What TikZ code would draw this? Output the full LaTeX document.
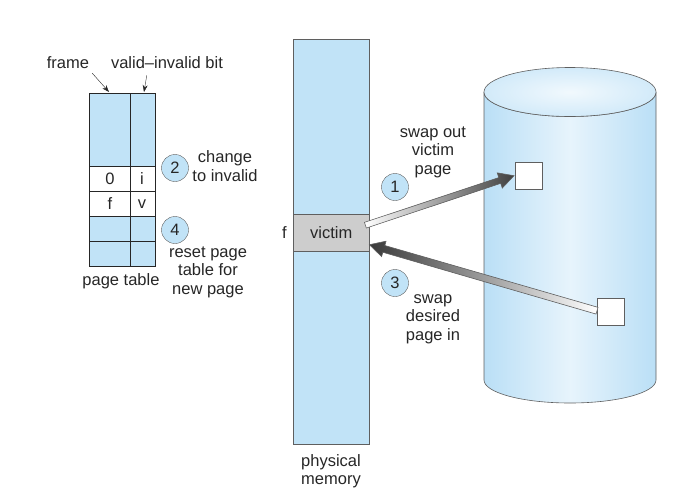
\documentclass[tikz,border=0pt]{standalone}
\usepackage{fontspec}
\setmainfont{Liberation Sans}
\usepackage{tikz}
\usetikzlibrary{arrows.meta, calc, positioning}
\definecolor{memblue}{RGB}{193,227,247}
\definecolor{diskblue}{RGB}{186,223,246}
\definecolor{victimgray}{RGB}{205,205,205}
\definecolor{edgegray}{RGB}{95,95,95}
\newcommand{\swaparrow}[5]{% tail, tip, half shaft, left colour, right colour
  \coordinate (hb) at ($(#2)!15pt!(#1)$);
  \shade[draw=edgegray, line width=0.6pt, left color=#4, right color=#5]
    ($(#1)!#3!90:(#2)$) -- ($(hb)!#3!90:(#2)$) -- ($(hb)!8pt!90:(#2)$) -- (#2)
    -- ($(hb)!8pt!-90:(#2)$) -- ($(hb)!#3!-90:(#2)$) -- ($(#1)!#3!-90:(#2)$) -- cycle;
}

\tikzset{
  lbl/.style={inner sep=0pt, align=center, text=black!85, font=\fontsize{16.5}{18.5}\selectfont},
  stepnum/.style={circle, draw=edgegray, fill=memblue, minimum size=27pt, inner sep=0pt, text=black!85, font=\fontsize{16.5}{18.5}\selectfont},
  blk/.style={draw=edgegray, fill=white, minimum size=27pt, inner sep=0pt},
}

\begin{document}
\begin{tikzpicture}[x=1pt, y=-1pt]
  \useasboundingbox (0,0) rectangle (687,498);
  % Page table
  \node[draw=black!85, fill=memblue, minimum width=66pt, minimum height=173pt, inner sep=0pt, anchor=north west] (ptab) at (89,93) {};
  \fill[white] (89,166) rectangle (155,216);
  \foreach \y in {166, 191, 216, 241}
    \draw[black!85] (89,\y) -- (155,\y);
  \draw[black!85] (130,93) -- (130,266);
  \draw[black!85] (ptab.north west) rectangle (ptab.south east);
  \node[lbl] (fzero) at (110,179) {0};
  \node[lbl] (bzero) at (142,179) {i};
  \node[lbl] (ff) at (110,204) {f};
  \node[lbl] (bf) at (142,204) {v};
  \node[lbl] (ptlbl) at (121,281) {page table};
  % Column labels
  \node[lbl] (frm) at (68,63) {frame};
  \node[lbl] (vib) at (167,63) {valid--invalid bit};
  \coordinate (framecol) at (109,92);
  \coordinate (bitcol) at (144,92);
  \draw[black!85, -{Stealth[length=7pt, width=5pt]}] ($(frm.south east)+(3,4)$) -- (framecol);
  \draw[black!85, -{Stealth[length=7pt, width=5pt]}] ($(vib.south west)!0.32!(vib.south east)+(0,6)$) -- (bitcol);
  % Steps 2 and 4
  \node[stepnum] (s2) at (175,168) {2};
  \node[lbl] (chg) at (225,166) {change\\to invalid};
  \node[stepnum] (s4) at (175,230) {4};
  \node[lbl] (rst) at (208,272) {reset page\\table for\\new page};
  % Physical memory
  \node[draw=edgegray, fill=memblue, minimum width=76pt, minimum height=405pt, inner sep=0pt, anchor=north west] (pmem) at (293,39) {};
  \node[draw=edgegray, fill=victimgray, minimum width=76pt, minimum height=37pt, inner sep=0pt, anchor=north west, text=black!85, font=\fontsize{16.5}{18.5}\selectfont] (victim) at (293,214) {victim};
  \node[lbl, left=6pt of victim] (fv) {f};
  \node[lbl] (pmlbl) at (331,471) {physical\\memory};
  % Backing store
  \shade[draw=edgegray, line width=0.6pt, left color=diskblue, right color=diskblue, middle color=diskblue!35]
    (484,92) -- (484,380) arc[start angle=180, end angle=0, x radius=86, y radius=23]
    -- (656,92) arc[start angle=0, end angle=180, x radius=86, y radius=24.5] -- cycle;
  \shade[draw=edgegray, line width=0.6pt, inner color=diskblue!20, outer color=diskblue!65]
    (570,92) ellipse[x radius=86, y radius=24.5];
  \node[blk, anchor=north west] (outpg) at (515,162) {};
  \node[blk, anchor=north west] (inpg) at (597,298) {};
  % Swap out and swap in
  \coordinate (outtail) at ($(victim.east)+(-4,-7.5)$);
  \coordinate (outtip) at ($(outpg.west)+(-1,0)$);
  \coordinate (intail) at ($(inpg.west)+(0,-1)$);
  \coordinate (intip) at ($(victim.east)+(0,12)$);
  \swaparrow{outtail}{outtip}{3pt}{white}{gray!50!black}
  \swaparrow{intail}{intip}{3.5pt}{gray!45!black}{white}
  \node[stepnum] (s1) at (395,187) {1};
  \node[lbl] (swo) at (433,152) {swap out\\victim\\page};
  \node[stepnum] (s3) at (395,283) {3};
  \node[lbl] (swi) at (433,319) {swap\\desired\\page in};
\end{tikzpicture}
\end{document}
